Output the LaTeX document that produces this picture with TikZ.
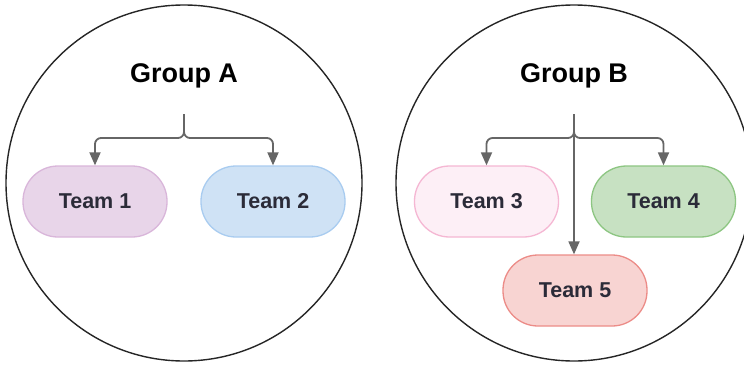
\documentclass[tikz,border=0pt]{standalone}
\usepackage{fontspec}
\setmainfont{Liberation Sans}
\usetikzlibrary{arrows.meta}
\definecolor{linegray}{HTML}{666666}
\definecolor{txt}{HTML}{2B2B38}
\definecolor{f1}{HTML}{E8D5E9}\definecolor{d1}{HTML}{D9B6DA}
\definecolor{f2}{HTML}{CFE2F5}\definecolor{d2}{HTML}{A9CCF0}
\definecolor{f3}{HTML}{FDEFF6}\definecolor{d3}{HTML}{F5B7D3}
\definecolor{f4}{HTML}{C7E1C2}\definecolor{d4}{HTML}{8DC682}
\definecolor{f5}{HTML}{F8D4D2}\definecolor{d5}{HTML}{EC8C88}
\begin{document}
\begin{tikzpicture}[x=1pt,y=-1pt,
  groupcircle/.style={draw=black!85,line width=1.4pt,circle,minimum size=356pt,inner sep=0pt},
  grouptitle/.style={font=\bfseries\fontsize{27}{32}\selectfont,text=black},
  team/.style={rectangle,rounded corners=35pt,minimum width=144pt,minimum height=71pt,
    line width=1.3pt,font=\bfseries\fontsize{21.5}{26}\selectfont,text=txt,inner sep=0pt},
  conn/.style={draw=linegray,line width=1.8pt,-{Triangle[length=13pt,width=11pt]},rounded corners=6pt}]
\useasboundingbox (0,0) rectangle (744,364);
\fill[white] (0,0) rectangle (744,364);
% Group A
\node[groupcircle] (ca) at (184,183) {};
\node[grouptitle] (ga) at (184,76) {Group A};
\node[team,fill=f1,draw=d1] (t1) at (95,201.5) {Team 1};
\node[team,fill=f2,draw=d2] (t2) at (273,201.5) {Team 2};
\coordinate (sa) at (184,114);
\coordinate (ja) at (184,138);
\draw[conn] (sa) -- (ja) -| (t1.north);
\draw[conn] (sa) -- (ja) -| (t2.north);
% Group B
\node[groupcircle] (cb) at (574,183) {};
\node[grouptitle] (gb) at (574,76) {Group B};
\node[team,fill=f3,draw=d3] (t3) at (486.5,201.5) {Team 3};
\node[team,fill=f4,draw=d4] (t4) at (663.5,201.5) {Team 4};
\node[team,fill=f5,draw=d5] (t5) at (575,290.5) {Team 5};
\coordinate (sb) at (574,114);
\coordinate (jb) at (574,138);
\draw[conn] (sb) -- (jb) -| (t3.north);
\draw[conn] (sb) -- (jb) -| (t4.north);
\draw[conn] (sb) -- (sb |- t5.north);
\end{tikzpicture}
\end{document}
